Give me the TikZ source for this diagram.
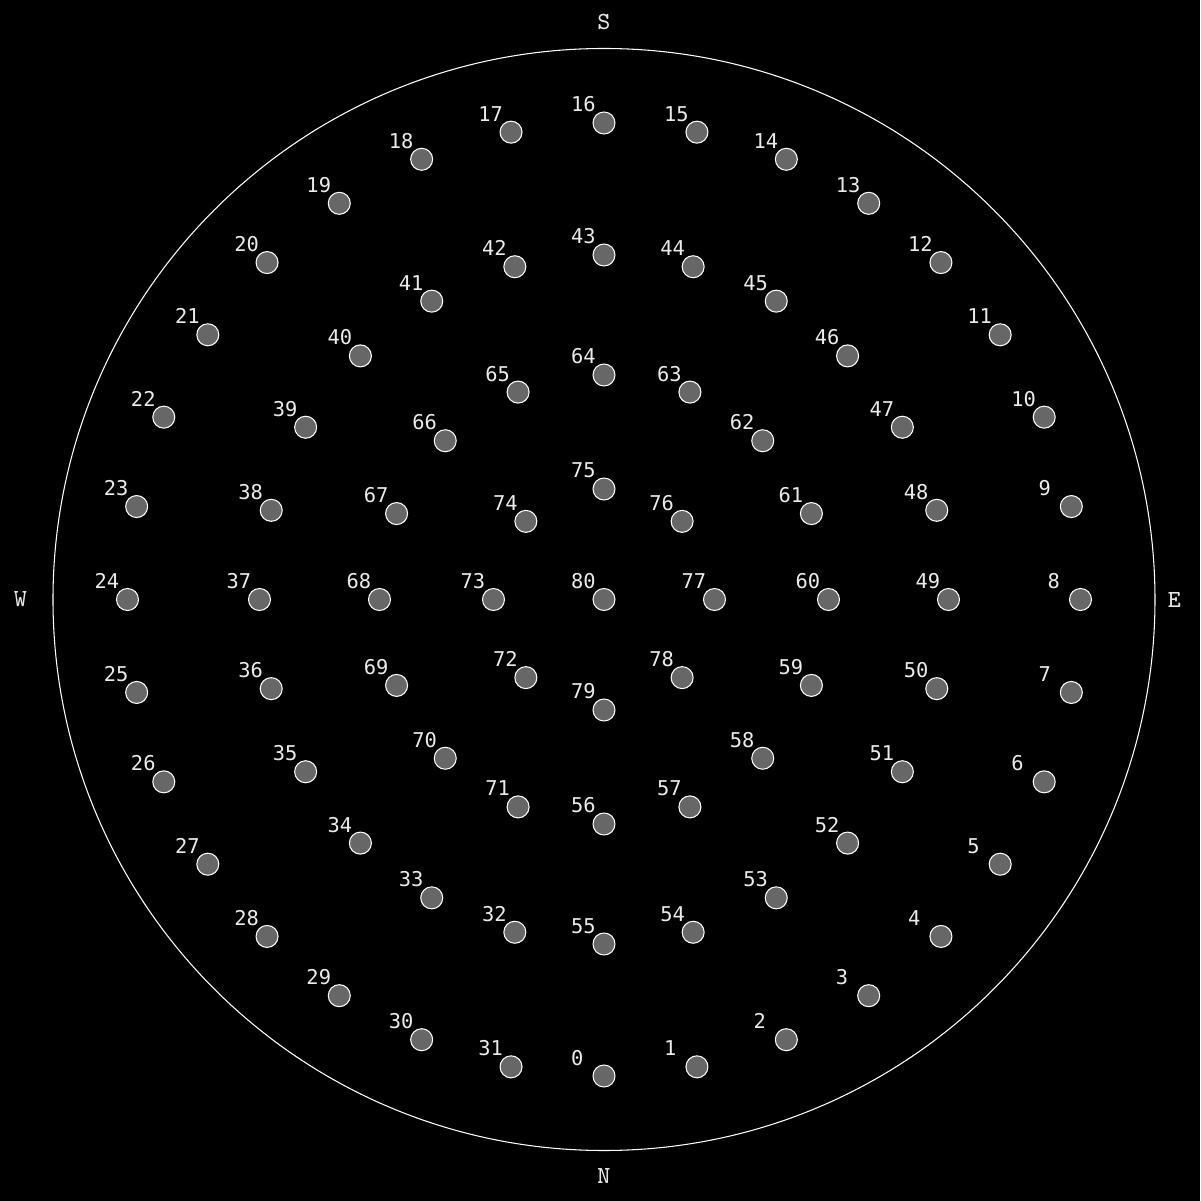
\documentclass[tikz,border=0pt]{standalone}
\usepackage{fontspec}
\newfontfamily\numfont{DejaVu Sans Mono}
\definecolor{dotgray}{HTML}{676767}
\begin{document}
\begin{tikzpicture}[
    spot/.style={circle, draw=white, line width=0.3pt, fill=dotgray, minimum size=0.22cm, inner sep=0pt},
    num/.style={anchor=base west, inner sep=0pt, text=white!92!black, font=\numfont\fontsize{5.8}{6}\selectfont},
    dir/.style={inner sep=0pt, text=white!90!black, font=\ttfamily\fontsize{7}{8}\selectfont}
]
    % --- Background and horizon ---
    \fill[black] (-6.04,-6.015) rectangle (5.96,5.995);
    \draw[white, line width=0.3pt] (0,0) circle (5.51);
    \node[dir] (south) at (0,5.78) {S};
    \node[dir] (north) at (0,-5.765) {N};
    \node[dir] (west) at (-5.835,0) {W};
    \node[dir] (east) at (5.705,0) {E};

    % --- Outer ring (0-31) ---
    \foreach \i in {0,...,31}
        \node[spot] (d\i) at ({-90+11.25*\i}:4.765) {};
    % --- Second ring (32-55) ---
    \foreach \i in {32,...,55}
        \node[spot] (d\i) at ({255-15*(\i-32)}:3.445) {};
    % --- Third ring (56-71) ---
    \foreach \i in {56,...,71}
        \node[spot] (d\i) at ({-90+22.5*(\i-56)}:2.245) {};
    % --- Inner ring (72-79) and centre ---
    \foreach \i in {72,...,79}
        \node[spot] (d\i) at ({225-45*(\i-72)}:1.105) {};
    \node[spot] (d80) at (0,0) {};

    % --- Numbers ---
    \foreach \i in {0,...,80}
        \node[num] (l\i) at ([shift={(-0.335,0.11)}]d\i.center) {\i};
\end{tikzpicture}
\end{document}
